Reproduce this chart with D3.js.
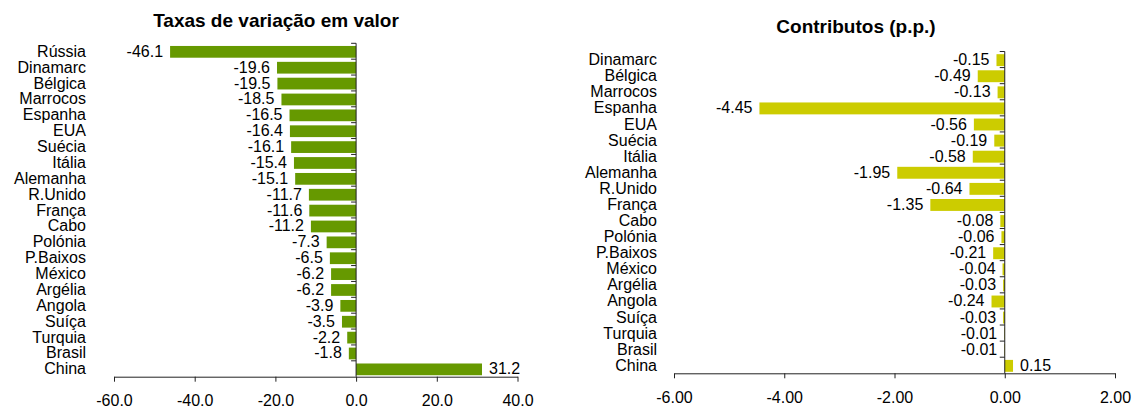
<!DOCTYPE html>
<html>
<head>
<meta charset="utf-8">
<script src="https://cdn.jsdelivr.net/npm/d3@7"></script>
<style>
  body { margin: 0; background: #fff; }
  svg text { font-family: Arial, "Liberation Sans", sans-serif; fill: #000; }
</style>
</head>
<body>
<svg id="chart" width="1136" height="410"></svg>
<script>
// taxas de variação em valor (%)
var paisesTaxa = ["Rússia", "Dinamarc", "Bélgica", "Marrocos", "Espanha", "EUA", "Suécia", "Itália",
  "Alemanha", "R.Unido", "França", "Cabo", "Polónia", "P.Baixos", "México", "Argélia", "Angola",
  "Suíça", "Turquia", "Brasil", "China"];
var taxas = [-46.1, -19.6, -19.5, -18.5, -16.5, -16.4, -16.1, -15.4, -15.1, -11.7, -11.6, -11.2,
  -7.3, -6.5, -6.2, -6.2, -3.9, -3.5, -2.2, -1.8, 31.2];
var ticksTaxa = [-60, -40, -20, 0, 20, 40];

// contributos (p.p.)
var paisesContrib = ["Dinamarc", "Bélgica", "Marrocos", "Espanha", "EUA", "Suécia", "Itália",
  "Alemanha", "R.Unido", "França", "Cabo", "Polónia", "P.Baixos", "México", "Argélia", "Angola",
  "Suíça", "Turquia", "Brasil", "China"];
var contributos = [-0.15, -0.49, -0.13, -4.45, -0.56, -0.19, -0.58, -1.95, -0.64, -1.35, -0.08,
  -0.06, -0.21, -0.04, -0.03, -0.24, -0.03, -0.01, -0.01, 0.15];
var ticksContrib = [-6, -4, -2, 0, 2];

var svg = d3.select("#chart");

// plain hyphen instead of the unicode minus d3 puts in
function fmt(spec) {
  var f = d3.format(spec);
  return function(v) { return f(v).replace("\u2212", "-"); };
}

function barChart(opt) {
  var data = opt.cats.map(function(c, i) { return { cat: c, value: opt.values[i] }; });

  var x = d3.scaleLinear().domain(opt.domain).range(opt.xRange);
  var y = d3.scaleBand().domain(opt.cats).range(opt.yRange)
      .paddingInner(0.26).paddingOuter(0.13);

  var g = svg.append("g");

  // title
  g.append("text")
    .attr("x", opt.titleX).attr("y", opt.titleY)
    .attr("text-anchor", "middle")
    .style("font-size", "19px").style("font-weight", "bold")
    .text(opt.title);

  // bars
  g.append("g").attr("transform", "translate(0,0.6)")
    .selectAll("rect").data(data).enter().append("rect")
    .attr("x", function(d) { return x(Math.min(0, d.value)); })
    .attr("y", function(d) { return y(d.cat); })
    .attr("width", function(d) { return Math.abs(x(d.value) - x(0)); })
    .attr("height", y.bandwidth())
    .attr("fill", opt.color);

  // value labels
  var vf = fmt(opt.valFmt);
  g.append("g").selectAll("text").data(data).enter().append("text")
    .attr("x", function(d) { return d.value < 0 ? x(d.value) - 7 : x(d.value) + 7; })
    .attr("y", function(d) { return y(d.cat) + y.bandwidth() / 2; })
    .attr("dy", "0.35em")
    .attr("text-anchor", function(d) { return d.value < 0 ? "end" : "start"; })
    .style("font-size", "16px")
    .text(function(d) { return vf(d.value); });

  // category labels
  g.append("g").selectAll("text").data(data).enter().append("text")
    .attr("x", opt.labelX)
    .attr("y", function(d) { return y(d.cat) + y.bandwidth() / 2; })
    .attr("dy", "0.35em")
    .attr("text-anchor", "end")
    .style("font-size", "16px")
    .text(function(d) { return d.cat; });

  // vertical axis at zero with ticks between categories
  var half = y.step() * y.paddingInner() / 2;
  var yAxis = g.append("g");
  yAxis.append("line")
    .attr("x1", x(0)).attr("x2", x(0))
    .attr("y1", opt.yRange[0]).attr("y2", opt.yRange[1])
    .attr("stroke", "#222");
  yAxis.selectAll(".tk").data(opt.cats).enter().append("line")
    .attr("class", "tk")
    .attr("x1", x(0) - 5).attr("x2", x(0))
    .attr("y1", function(d) { return y(d) - half; })
    .attr("y2", function(d) { return y(d) - half; })
    .attr("stroke", "#222");

  // x axis
  var xAxis = g.append("g")
    .attr("transform", "translate(0," + opt.yRange[1] + ")")
    .call(d3.axisBottom(x).tickValues(opt.ticks).tickFormat(fmt(opt.tickFmt))
      .tickSize(5).tickSizeOuter(0).tickPadding(13));
  xAxis.select(".domain").attr("stroke", "#222");
  xAxis.selectAll(".tick line").attr("stroke", "#222");
  xAxis.selectAll(".tick text")
    .style("font-size", "16px")
    .style("font-family", "Arial, 'Liberation Sans', sans-serif");
}

barChart({
  cats: paisesTaxa, values: taxas, ticks: ticksTaxa,
  domain: [-60, 40], xRange: [114, 517.5], yRange: [43.3, 376.7],
  color: "#669900", title: "Taxas de variação em valor", titleX: 276, titleY: 26.5,
  labelX: 86, valFmt: ".1f", tickFmt: ".1f"
});

barChart({
  cats: paisesContrib, values: contributos, ticks: ticksContrib,
  domain: [-6, 2], xRange: [674, 1115], yRange: [51.5, 373.3],
  color: "#cccc00", title: "Contributos (p.p.)", titleX: 856, titleY: 33,
  labelX: 657, valFmt: ".2f", tickFmt: ".2f"
});
</script>
</body>
</html>
